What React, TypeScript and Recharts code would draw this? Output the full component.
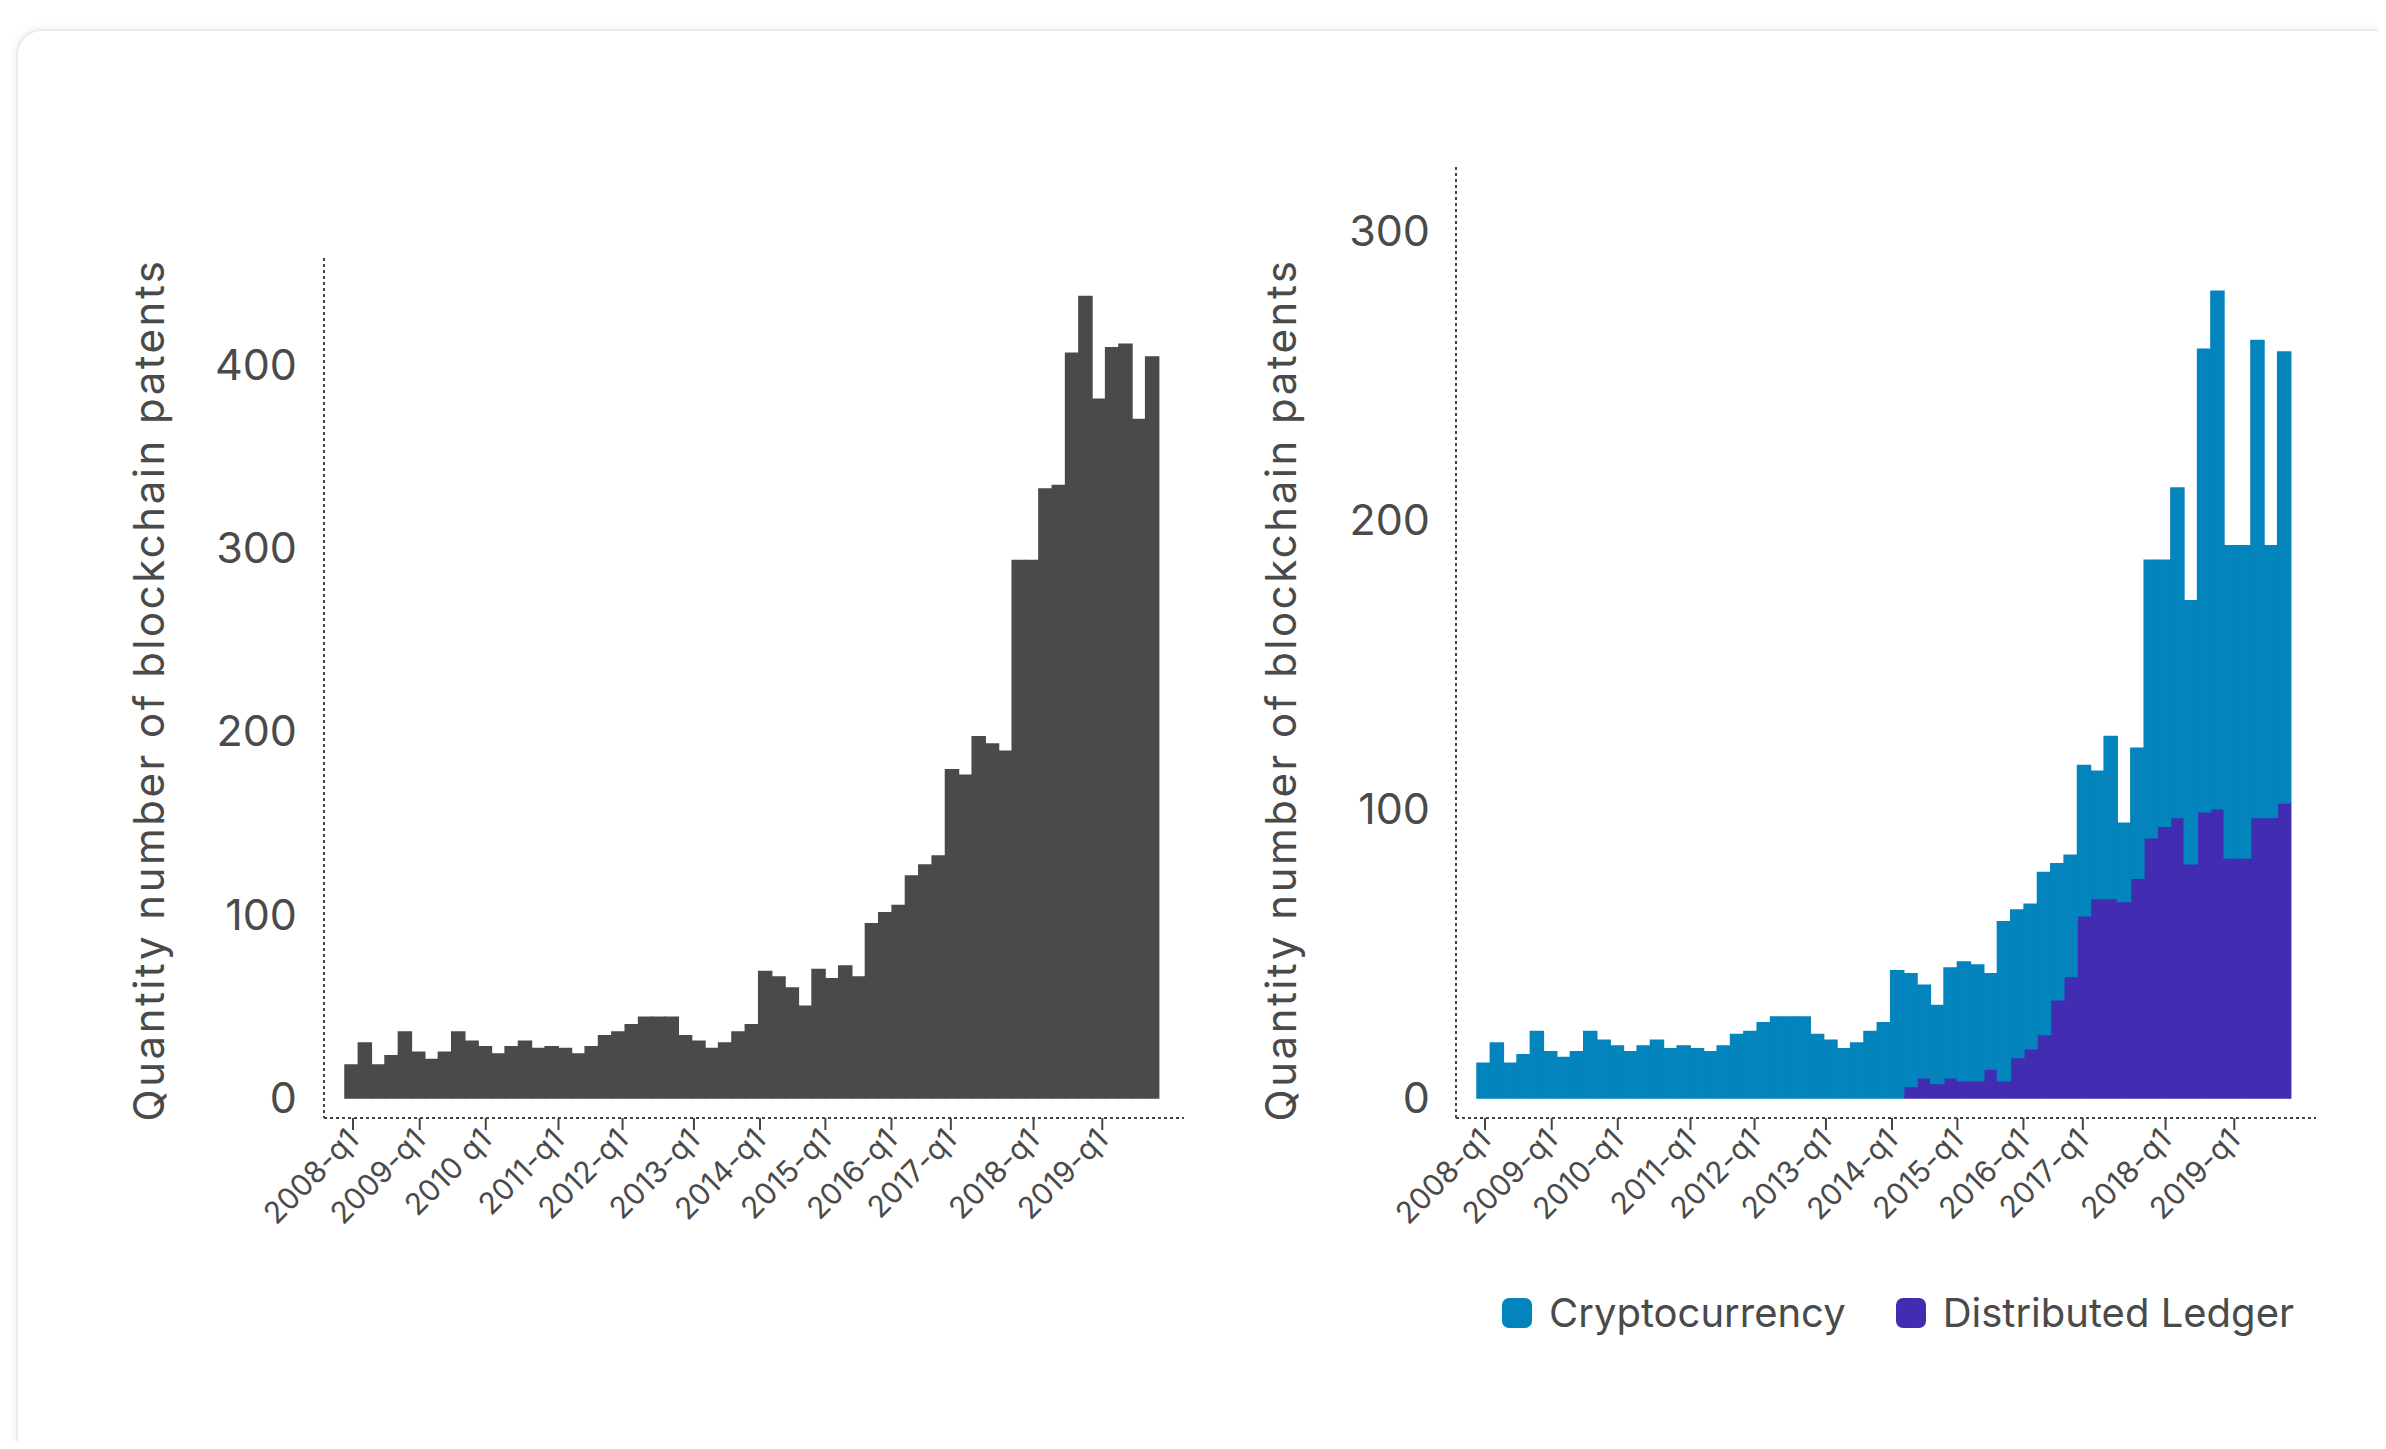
import { BarChart, Bar, XAxis, YAxis, Legend, Label } from 'recharts'

// 61 reporting periods, numbered from the left edge of each panel
const PERIODS = Array.from({ length: 61 }, (_, i) => i)

// left panel: all blockchain patents per period
const ALL_PATENTS = [
  18, 30, 18, 23, 36, 25, 21, 25, 36, 31, 28, 24, 28, 31, 27, 28, 27, 24, 28, 34,
  36, 40, 44, 44, 44, 34, 31, 27, 30, 36, 40, 69, 66, 60, 50, 70, 65, 72, 66, 95,
  101, 105, 121, 127, 132, 179, 176, 197, 193, 189, 293, 293, 332, 334, 406, 437, 381, 409, 411, 370,
  404,
]

// right panel, stacked
const CRYPTOCURRENCY = [
  12, 19, 12, 15, 23, 16, 14, 16, 23, 20, 18, 16, 18, 20, 17, 18, 17, 16, 18, 22,
  23, 26, 28, 28, 28, 22, 20, 17, 19, 23, 26, 44, 39, 32, 27, 38, 41, 40, 33, 55,
  51, 50, 56, 47, 42, 52, 44, 56, 27, 45, 96, 92, 114, 91, 160, 179, 108, 108, 165, 94,
  156,
]
const DISTRIBUTED_LEDGER = [
  0, 0, 0, 0, 0, 0, 0, 0, 0, 0, 0, 0, 0, 0, 0, 0, 0, 0, 0, 0,
  0, 0, 0, 0, 0, 0, 0, 0, 0, 0, 0, 0, 4, 7, 5, 7, 6, 6, 10, 6,
  14, 17, 22, 34, 42, 63, 69, 69, 68, 76, 90, 94, 97, 81, 99, 100, 83, 83, 97, 97,
  102,
]

// period (fractional) where each year label sits
const YEAR_TICKS = [0.1, 5.1, 10.05, 15.5, 20.3, 25.65, 30.6, 35.5, 40.45, 44.9, 51.1, 56.25]
const YEAR_LABELS_LEFT = [
  '2008-q1', '2009-q1', '2010 q1', '2011-q1', '2012-q1', '2013-q1',
  '2014-q1', '2015-q1', '2016-q1', '2017-q1', '2018-q1', '2019-q1',
]
const YEAR_LABELS_RIGHT = [
  '2008-q1', '2009-q1', '2010-q1', '2011-q1', '2012-q1', '2013-q1',
  '2014-q1', '2015-q1', '2016-q1', '2017-q1', '2018-q1', '2019-q1',
]
const Y_TICKS_LEFT = [0, 100, 200, 300, 400]
const Y_TICKS_RIGHT = [0, 100, 200, 300]
const LEGEND_ORDER = ['Cryptocurrency', 'Distributed Ledger']

const TEXT = '#4a4a4a'
const AXIS = '#444'
const FONT = 'Inter, sans-serif'
const GREY = '#4a4a4a'
const BLUE = '#0484bd'
const PURPLE = '#422cb2'

const axisLine = { stroke: AXIS, strokeWidth: 2, strokeDasharray: '3 3' }
const yTitle = 'Quantity number of blockchain patents'

const leftData = PERIODS.map((i) => ({ i, total: ALL_PATENTS[i] }))
const rightData = PERIODS.map((i) => ({
  i,
  crypto: CRYPTOCURRENCY[i],
  ledger: DISTRIBUTED_LEDGER[i],
}))

function makeTick(labels: string[]) {
  return (props: any) => {
    const { x, y, payload } = props
    const k = YEAR_TICKS.indexOf(payload.value)
    return (
      <g transform={`translate(${x},${y})`}>
        <text
          textAnchor="end"
          dy="0.35em"
          transform="rotate(-45)"
          fill={TEXT}
          fontSize={30}
          fontFamily={FONT}
        >
          {labels[k]}
        </text>
      </g>
    )
  }
}

function titleAt(x: number, y: number) {
  return () => (
    <text
      x={x}
      y={y}
      transform={`rotate(-90 ${x} ${y})`}
      textAnchor="middle"
      dominantBaseline="central"
      fill={TEXT}
      fontSize={42}
      letterSpacing={2.5}
      fontFamily={FONT}
    >
      {yTitle}
    </text>
  )
}

const renderLegend = (props: any) => {
  const items = [...(props.payload || [])].sort(
    (a, b) => LEGEND_ORDER.indexOf(a.value) - LEGEND_ORDER.indexOf(b.value)
  )
  return (
    <div
      style={{
        display: 'flex',
        alignItems: 'center',
        fontFamily: FONT,
        fontSize: 40,
        color: TEXT,
        lineHeight: '46px',
        whiteSpace: 'nowrap',
      }}
    >
      {items.map((it, n) => (
        <div
          key={it.value}
          style={{ display: 'flex', alignItems: 'center', marginLeft: n ? 50 : 0 }}
        >
          <span
            style={{
              display: 'inline-block',
              width: 30,
              height: 30,
              borderRadius: 7,
              background: it.color,
              marginRight: 17,
            }}
          />
          {it.value}
        </div>
      ))}
    </div>
  )
}

export default function App() {
  return (
    <div
      style={{
        position: 'relative',
        width: 2370,
        height: 1433,
        overflow: 'hidden',
        background: '#fff',
        fontFamily: FONT,
      }}
    >
      <div
        style={{
          position: 'absolute',
          left: 8,
          top: 21,
          width: 2500,
          height: 1600,
          borderRadius: 26,
          border: '2px solid #ebebeb',
          boxShadow: '0 0 10px rgba(0,0,0,0.08)',
          background: '#fff',
        }}
      />

      <div style={{ position: 'absolute', left: 32, top: 192 }}>
        <BarChart
          width={1164}
          height={1058}
          data={leftData}
          margin={{ top: 58, right: 20, bottom: 10, left: 0 }}
          barCategoryGap={0}
        >
          <XAxis
            type="number"
            dataKey="i"
            domain={[-0.5, 60.5]}
            ticks={YEAR_TICKS}
            interval={0}
            padding={{ left: 21, right: 25 }}
            height={130}
            tickSize={12}
            tickMargin={4}
            axisLine={axisLine}
            tickLine={{ stroke: AXIS, strokeWidth: 2 }}
            tick={makeTick(YEAR_LABELS_LEFT)}
          />
          <YAxis
            type="number"
            domain={[0, 458]}
            ticks={Y_TICKS_LEFT}
            interval={0}
            width={284}
            padding={{ bottom: 20 }}
            axisLine={axisLine}
            tickLine={false}
            tickMargin={21}
            tick={{ fill: TEXT, fontSize: 43, fontFamily: FONT }}
          >
            <Label content={titleAt(108, 490)} />
          </YAxis>
          <Bar
            dataKey="total"
            name="Blockchain patents"
            fill={GREY}
            stroke={GREY}
            strokeWidth={1.5}
            isAnimationActive={false}
          />
        </BarChart>
      </div>

      <div style={{ position: 'absolute', left: 1172, top: 112 }}>
        <BarChart
          width={1156}
          height={1260}
          data={rightData}
          margin={{ top: 47, right: 20, bottom: 132, left: 0 }}
          barCategoryGap={0}
        >
          <XAxis
            type="number"
            dataKey="i"
            domain={[-0.5, 60.5]}
            ticks={YEAR_TICKS}
            interval={0}
            padding={{ left: 21, right: 25 }}
            height={130}
            tickSize={12}
            tickMargin={4}
            axisLine={axisLine}
            tickLine={{ stroke: AXIS, strokeWidth: 2 }}
            tick={makeTick(YEAR_LABELS_RIGHT)}
          />
          <YAxis
            type="number"
            domain={[0, 322]}
            ticks={Y_TICKS_RIGHT}
            interval={0}
            width={276}
            padding={{ bottom: 20 }}
            axisLine={axisLine}
            tickLine={false}
            tickMargin={20}
            tick={{ fill: TEXT, fontSize: 43, fontFamily: FONT }}
          >
            <Label content={titleAt(100, 570)} />
          </YAxis>
          <Bar
            dataKey="ledger"
            name="Distributed Ledger"
            stackId="a"
            fill={PURPLE}
            stroke={PURPLE}
            strokeWidth={1.5}
            isAnimationActive={false}
          />
          <Bar
            dataKey="crypto"
            name="Cryptocurrency"
            stackId="a"
            fill={BLUE}
            stroke={BLUE}
            strokeWidth={1.5}
            isAnimationActive={false}
          />
          <Legend
            layout="horizontal"
            verticalAlign="middle"
            align="center"
            wrapperStyle={{ top: 1170, left: 322, width: 'auto', height: 'auto' }}
            content={renderLegend}
          />
        </BarChart>
      </div>
    </div>
  )
}
